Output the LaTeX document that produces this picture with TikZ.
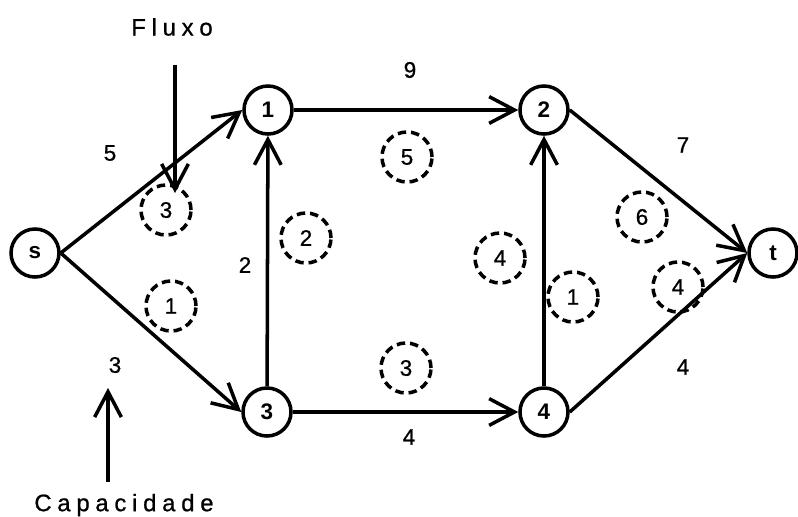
\documentclass[tikz,border=0pt]{standalone}
\usepackage{fontspec}
\setmainfont{Liberation Sans}
\newfontfamily\labelfont{Liberation Sans}[FakeBold=0.8]
\newfontfamily\spacedfont{Liberation Sans}[LetterSpace=24, FakeBold=0.8]
\usetikzlibrary{arrows.meta}

\begin{document}
\begin{tikzpicture}[
        x=0.025cm, y=-0.025cm,
        vertex/.style={circle, draw, line width=2.5pt, minimum size=1.2cm, inner sep=0pt, font=\fontsize{16}{18}\selectfont\bfseries},
        flow/.style={circle, draw, dash pattern=on 6pt off 3.5pt, line width=2.5pt, minimum size=1.25cm, inner sep=0pt, font=\labelfont\fontsize{16}{18}\selectfont},
        capacity/.style={font=\labelfont\fontsize{16}{18}\selectfont},
        note/.style={font=\spacedfont\fontsize{17}{19}\selectfont},
        arrow/.style={-{Straight Barb[length=18pt, width=19pt]}, line width=2.5pt}
    ]
    \useasboundingbox (0,0) rectangle (798,516);

    % Vertices
    \node[vertex] (s) at (35,253) {s};
    \node[vertex] (n1) at (268,110) {1};
    \node[vertex] (n2) at (544,110) {2};
    \node[vertex] (n3) at (267,412) {3};
    \node[vertex] (n4) at (544,412) {4};
    \node[vertex] (t) at (773,253) {t};

    % Capacities
    \node[capacity] (c-s1) at (110,153) {5};
    \node[capacity] (c-s3) at (115,365) {3};
    \node[capacity] (c-31) at (245,265) {2};
    \node[capacity] (c-12) at (410,70) {9};
    \node[capacity] (c-34) at (409,437) {4};
    \node[capacity] (c-2t) at (683,145) {7};
    \node[capacity] (c-4t) at (683,367) {4};

    % Flows
    \node[flow] (f-s1) at (166,210) {3};
    \node[flow] (f-s3) at (171,306) {1};
    \node[flow] (f-31) at (306,238) {2};
    \node[flow] (f-12) at (407,157) {5};
    \node[flow] (f-34) at (406,368) {3};
    \node[flow] (f-42) at (500,258) {4};
    \node[flow] (f-42b) at (573,297) {1};
    \node[flow] (f-2t) at (642,217) {6};
    \node[flow] (f-4t) at (678,287) {4};

    % Edges
    \draw[arrow] (s.east) -- (n1.west);
    \draw[arrow] (s.east) -- (n3.west);
    \draw[arrow] (n3) -- (n1);
    \draw[arrow] (n1) -- (n2);
    \draw[arrow] (n3) -- (n4);
    \draw[arrow] (n4) -- (n2);
    \draw[arrow] (n2.east) -- (t.west);
    \draw[arrow] (n4.east) -- (t.west);

    % Legend
    \node[note] (fluxo) at (172,27) {Fluxo};
    \coordinate (fluxo-from) at (175,65);
    \coordinate (fluxo-to) at (175,193);
    \draw[arrow] (fluxo-from) -- (fluxo-to);

    \node[note] (capacidade) at (124,505) {Capacidade};
    \coordinate (cap-from) at (108,482);
    \coordinate (cap-to) at (108,388);
    \draw[arrow] (cap-from) -- (cap-to);

\end{tikzpicture}
\end{document}
